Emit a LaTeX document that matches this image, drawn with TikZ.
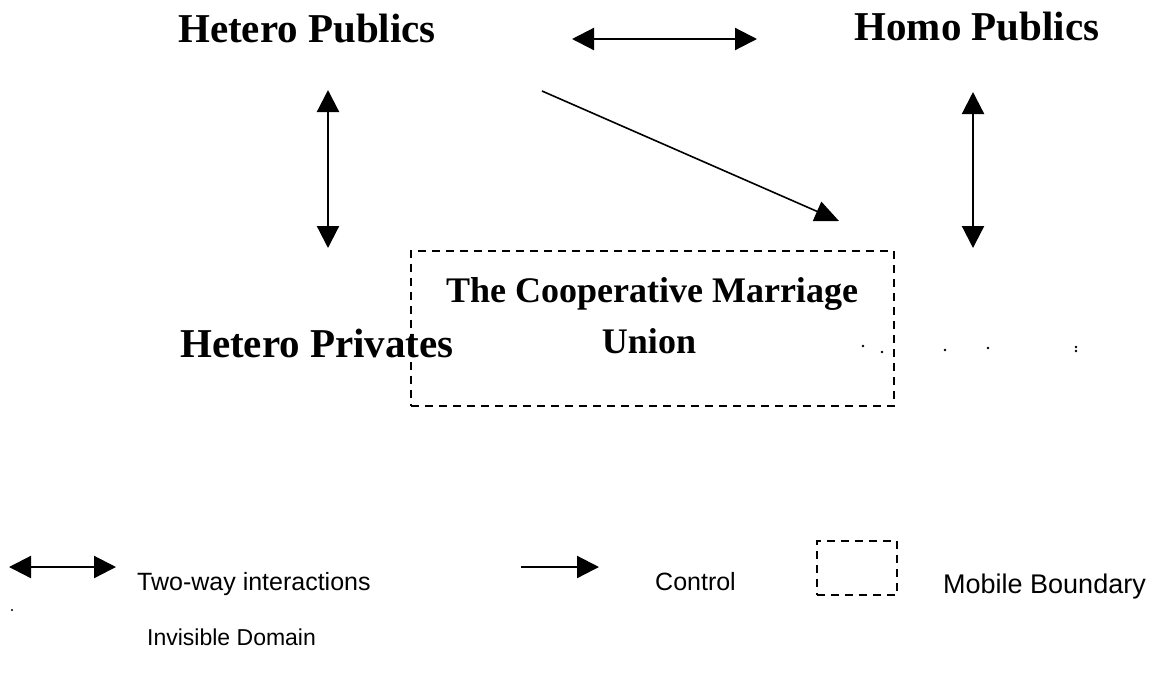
\documentclass[tikz,border=0pt]{standalone}
\usepackage{fontspec}
\setmainfont{Liberation Serif}
\newfontfamily\legendfont{Liberation Sans}
\usetikzlibrary{arrows.meta}
\tikzset{
  headfont/.style={font=\fontsize{41}{45}\selectfont\bfseries, inner sep=0pt},
  boxfont/.style={font=\fontsize{36}{40}\selectfont\bfseries, inner sep=0pt},
  legfont/.style={font=\legendfont\fontsize{25}{28}\selectfont, inner sep=0pt},
  twoway/.style={line width=2.2pt, {Triangle[length=22pt,width=22pt]}-{Triangle[length=22pt,width=22pt]}},
  ctrl/.style={line width=1.6pt, -{Triangle[length=24pt,width=21pt]}},
  ctrlleg/.style={line width=2.2pt, -{Triangle[length=22pt,width=22pt]}},
  mobile/.style={draw, line width=1.6pt, dash pattern=on 8pt off 6pt},
  speck/.style={fill=black, inner sep=0pt, minimum size=2.6pt, circle}
}
\begin{document}
\begin{tikzpicture}[x=1pt,y=-1pt]
\useasboundingbox (0,0) rectangle (1155,673);
% headings
\node[headfont, anchor=base] (hp) at (307,42) {Hetero Publics};
\node[headfont, anchor=base] (mp) at (977,40) {Homo Publics};
\node[headfont, anchor=base west] (hpr) at (180,357) {Hetero Privates};
% mobile boundary box
\node[mobile, minimum width=483pt, minimum height=155pt, anchor=north west, inner sep=0pt] (cmu) at (410,250) {};
\node[boxfont, anchor=base] (cmu1) at (652,302) {The Cooperative Marriage};
\node[boxfont, anchor=base] (cmu2) at (649,353) {Union};
% connector end points
\coordinate (ha) at (572,39);
\coordinate (hb) at (757,39);
\coordinate (la) at (328,90);
\coordinate (lb) at (328,248);
\coordinate (ra) at (973,92);
\coordinate (rb) at (973,248);
\coordinate (da) at (542,91);
\coordinate (db) at (839,221);
\draw[twoway] (ha) -- (hb);
\draw[twoway] (la) -- (lb);
\draw[twoway] (ra) -- (rb);
\draw[ctrl] (da) -- (db);
% invisible domain (homo privates) specks
\node[speck] (s1) at (863,346) {};
\node[speck] (s2) at (882,352) {};
\node[speck] (s3) at (945,350) {};
\node[speck] (s4) at (988,348) {};
\node[speck] (s5) at (1076,347) {};
\node[speck] (s6) at (1076,351) {};
% legend
\coordinate (l1a) at (9,567);
\coordinate (l1b) at (116,567);
\draw[twoway] (l1a) -- (l1b);
\node[legfont, anchor=base west] (t1) at (137,590) {Two-way interactions};
\coordinate (l2a) at (521,567);
\coordinate (l2b) at (599,567);
\draw[ctrlleg] (l2a) -- (l2b);
\node[legfont, anchor=base west] (t2) at (655,590) {Control};
\node[mobile, minimum width=80pt, minimum height=54pt, anchor=north west, inner sep=0pt] (lbox) at (816,540) {};
\node[legfont, anchor=base west, font=\legendfont\fontsize{27}{30}\selectfont] (t3) at (943,593) {Mobile Boundary};
\node[speck, minimum size=2.2pt] (ld) at (12,610) {};
\node[legfont, anchor=base west, font=\legendfont\fontsize{23}{26}\selectfont] (t4) at (147,645) {Invisible Domain};
\end{tikzpicture}
\end{document}
